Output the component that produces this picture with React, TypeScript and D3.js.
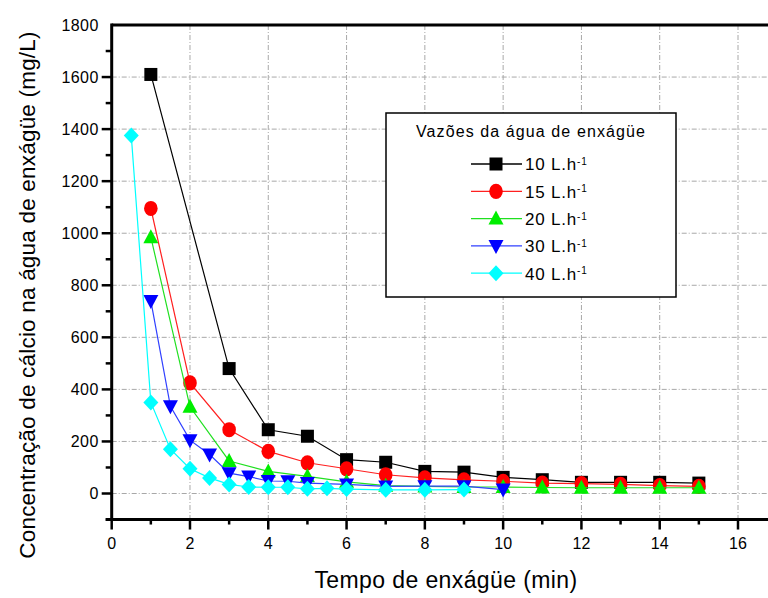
import React from "react";
import * as d3 from "d3";

const xTicks = [0, 2, 4, 6, 8, 10, 12, 14, 16];
const yTicks = [0, 200, 400, 600, 800, 1000, 1200, 1400, 1600, 1800];

const x10 = [1, 3, 4, 5, 6, 7, 8, 9, 10, 11, 12, 13, 14, 15];
const y10 = [1610, 480, 245, 220, 130, 120, 85, 82, 62, 53, 43, 43, 43, 40];
const x15 = [1, 2, 3, 4, 5, 6, 7, 8, 9, 10, 11, 12, 13, 14, 15];
const y15 = [1095, 425, 245, 162, 118, 95, 72, 60, 52, 47, 40, 38, 35, 30, 27];
const x20 = [1, 2, 3, 4, 5, 6, 7, 8, 9, 10, 11, 12, 13, 14, 15];
const y20 = [985, 333, 125, 85, 66, 45, 30, 27, 25, 25, 23, 22, 22, 22, 22];
const x30 = [1, 1.5, 2, 2.5, 3, 3.5, 4, 4.5, 5, 6, 7, 8, 9, 10];
const y30 = [740, 335, 205, 150, 78, 65, 48, 47, 40, 35, 27, 28, 28, 15];
const x40 = [0.5, 1, 1.5, 2, 2.5, 3, 3.5, 4, 4.5, 5, 5.5, 6, 7, 8, 9];
const y40 = [1375, 350, 170, 95, 60, 35, 25, 24, 24, 18, 20, 17, 14, 14, 15];

const seriesNames = ["10", "15", "20", "30", "40"];
const legendTitle = "Vazões da água de enxágüe";

type Series = { name: string; xs: number[]; ys: number[]; color: string; line: string; shape: string };

const series: Series[] = [
  { name: seriesNames[0], xs: x10, ys: y10, color: "#000000", line: "#000000", shape: "square" },
  { name: seriesNames[1], xs: x15, ys: y15, color: "#ff0000", line: "#ff2020", shape: "circle" },
  { name: seriesNames[2], xs: x20, ys: y20, color: "#00ee00", line: "#20e020", shape: "triangle" },
  { name: seriesNames[3], xs: x30, ys: y30, color: "#0000ff", line: "#3040ff", shape: "down" },
  { name: seriesNames[4], xs: x40, ys: y40, color: "#00ffff", line: "#00ffff", shape: "diamond" },
];

const FONT = "'Liberation Sans', Arial, sans-serif";

function Marker({ shape, cx, cy, color }: { shape: string; cx: number; cy: number; color: string }) {
  if (shape === "square") return <rect x={cx - 6.5} y={cy - 6.5} width={13} height={13} fill={color} />;
  if (shape === "circle") return <ellipse cx={cx} cy={cy} rx={6.8} ry={7.6} fill={color} />;
  if (shape === "triangle")
    return <path d={`M${cx},${cy - 8} L${cx + 7.5},${cy + 6} L${cx - 7.5},${cy + 6} Z`} fill={color} />;
  if (shape === "down")
    return <path d={`M${cx},${cy + 8} L${cx + 7.5},${cy - 6} L${cx - 7.5},${cy - 6} Z`} fill={color} />;
  return <path d={`M${cx},${cy - 8} L${cx + 7.5},${cy} L${cx},${cy + 8} L${cx - 7.5},${cy} Z`} fill={color} />;
}

export default function App() {
  const W = 768, H = 598;
  const x0 = 111.7;
  const xs = d3.scaleLinear().domain([0, 16]).range([x0, 738]);
  const ys = d3.scaleLinear().domain([0, 1800]).range([493.5, 25]);
  const axisY = ys(-100);
  const topY = ys(1800);
  const line = d3.line<[number, number]>().x((d) => xs(d[0])).y((d) => ys(d[1]));
  const minorY = d3.range(-100, 1800, 100);
  const minorX = d3.range(1, 17, 1);

  const legX = 386, legY = 113, legW = 290, legH = 184;

  return (
    <svg width={W} height={H} style={{ position: "absolute", left: 0, top: 0, background: "#fff" }} fontFamily={FONT}>
      <rect width={W} height={H} fill="#fff" />
      {/* grid */}
      {yTicks.slice(0, -1).map((t) => (
        <line key={"gy" + t} x1={x0} x2={W} y1={ys(t)} y2={ys(t)} stroke="#a8a8a8" strokeWidth={1} strokeDasharray="5,2,1,2" />
      ))}
      {xTicks.slice(1).map((t) => (
        <line key={"gx" + t} x1={xs(t)} x2={xs(t)} y1={topY} y2={axisY} stroke="#a8a8a8" strokeWidth={1} strokeDasharray="5,2,1,2" />
      ))}
      {/* series */}
      {series.map((s) => (
        <g key={s.name}>
          <path d={line(s.xs.map((v, i) => [v, s.ys[i]] as [number, number])) || ""} fill="none" stroke={s.line} strokeWidth={1.2} />
          {s.xs.map((v, i) => (
            <Marker key={i} shape={s.shape} cx={xs(v)} cy={ys(s.ys[i])} color={s.color} />
          ))}
        </g>
      ))}
      {/* axes */}
      <line x1={x0} x2={W} y1={topY} y2={topY} stroke="#000" strokeWidth={3} />
      <line x1={x0} x2={x0} y1={topY - 1.5} y2={axisY} stroke="#000" strokeWidth={3} />
      <line x1={x0 - 6} x2={W} y1={axisY} y2={axisY} stroke="#000" strokeWidth={3} />
      {minorY.map((t) => (
        <line key={"ty" + t} x1={x0 - (t % 200 === 0 ? 10 : 6)} x2={x0} y1={ys(t)} y2={ys(t)} stroke="#000" strokeWidth={2.5} />
      ))}
      {xTicks.map((t) => (
        <line key={"tx" + t} x1={xs(t)} x2={xs(t)} y1={axisY} y2={axisY + 10} stroke="#000" strokeWidth={2.5} />
      ))}
      {minorX.filter((t) => t % 2 === 1).map((t) => (
        <line key={"mx" + t} x1={xs(t)} x2={xs(t)} y1={axisY} y2={axisY + 5} stroke="#000" strokeWidth={2.5} />
      ))}
      {yTicks.map((t) => (
        <text key={"ly" + t} x={x0 - 13} y={ys(t)} dy="0.36em" textAnchor="end" fontSize={16} letterSpacing={0.4} fill="#000">
          {t}
        </text>
      ))}
      {xTicks.map((t) => (
        <text key={"lx" + t} x={xs(t)} y={axisY + 29} textAnchor="middle" fontSize={16} fill="#000">
          {t}
        </text>
      ))}
      <text x={446} y={588} textAnchor="middle" fontSize={23} letterSpacing={0.4} fill="#000">Tempo de enxágüe (min)</text>
      <text transform={`translate(35,295) rotate(-90)`} textAnchor="middle" fontSize={22.5} letterSpacing={0.2} fill="#000">
        Concentração de cálcio na água de enxágüe (mg/L)
      </text>
      {/* legend */}
      <rect x={legX} y={legY} width={legW} height={legH} fill="#fff" stroke="#000" strokeWidth={1.5} />
      <text x={legX + legW / 2} y={legY + 24} textAnchor="middle" fontSize={16} letterSpacing={1.1} fill="#000">
        {legendTitle}
      </text>
      {series.map((s, i) => {
        const cy = legY + 51 + i * 27.3;
        return (
          <g key={"leg" + s.name}>
            <line x1={471} x2={522} y1={cy} y2={cy} stroke={s.line} strokeWidth={1.3} />
            <Marker shape={s.shape} cx={496} cy={cy} color={s.color} />
            <text x={525} y={cy} dy="0.38em" fontSize={17} letterSpacing={0.8} fill="#000">
              {s.name} L.h
              <tspan dy="-0.55em" fontSize={10}>-1</tspan>
            </text>
          </g>
        );
      })}
    </svg>
  );
}
